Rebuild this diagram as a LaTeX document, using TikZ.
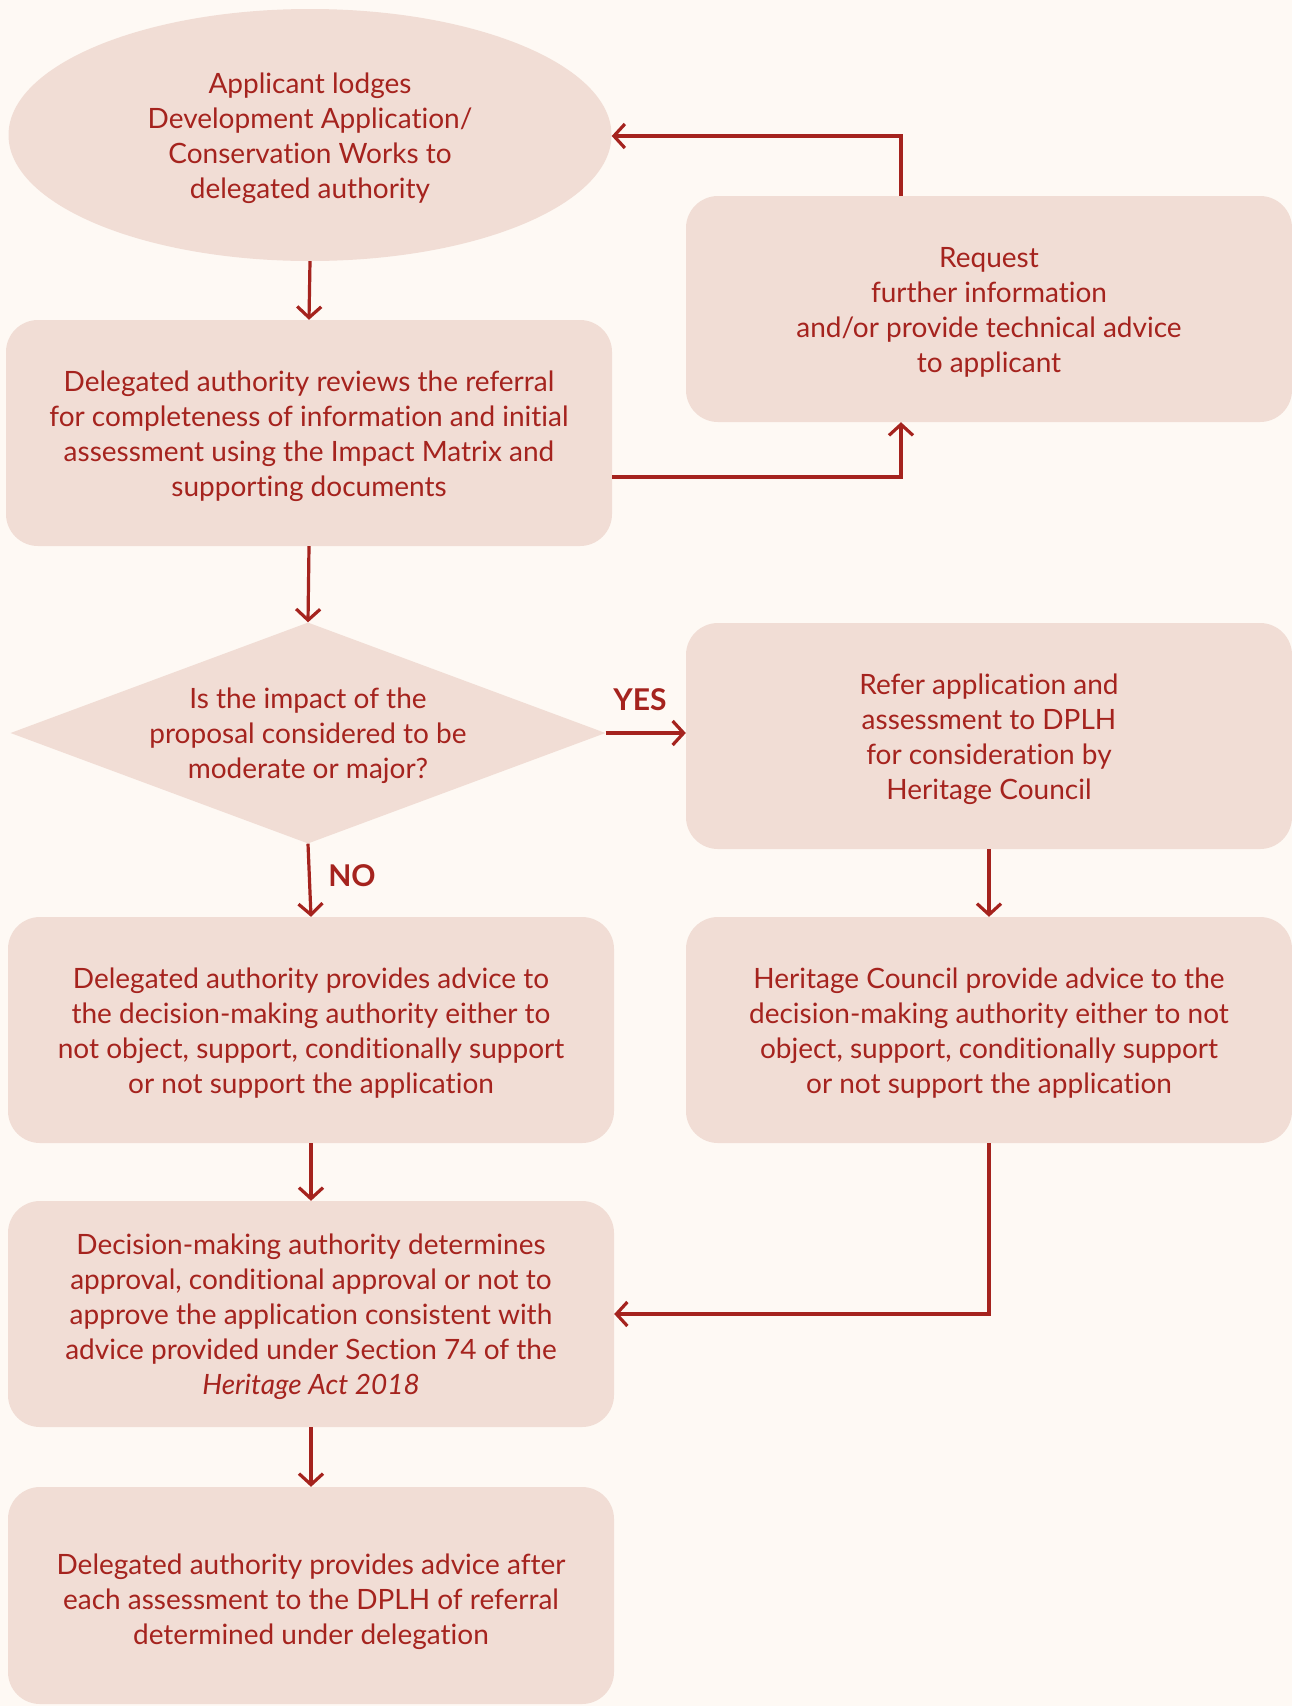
\documentclass[tikz,border=0pt]{standalone}
\usepackage{fontspec}
\setmainfont{Lato}[Ligatures=NoCommon]
\usetikzlibrary{shapes.geometric,arrows.meta}
\definecolor{bg}{HTML}{FEF9F4}
\definecolor{boxfill}{HTML}{F1DDD5}
\definecolor{ink}{HTML}{A5231E}
\begin{document}
\begin{tikzpicture}[x=1pt,y=-1pt,
  txt/.style={text=ink, align=center, font=\fontsize{28}{35}\selectfont, inner sep=0pt},
  box/.style={fill=boxfill, rounded corners=32pt, minimum width=606pt, minimum height=226pt, inner sep=0pt},
  arr/.style={draw=ink, line width=3.2pt, -{Straight Barb[length=11pt,width=24pt,line width=3.2pt]}},
  lbl/.style={text=ink, font=\fontsize{30}{32}\selectfont\bfseries}]
\fill[bg] (0,0) rectangle (1292,1706);
\useasboundingbox (0,0) rectangle (1292,1706);

% shapes
\node[shape=ellipse, fill=boxfill, minimum width=603pt, minimum height=252pt, inner sep=0pt] (ell) at (310,135) {};
\node[box] (rev) at (309,433) {};
\node[box] (req) at (989,309) {};
\node[shape=diamond, fill=boxfill, aspect=2.7, minimum width=595pt, minimum height=221pt, inner sep=0pt] (dia) at (308,733) {};
\node[box] (ref) at (989,736) {};
\node[box] (adv) at (311,1030) {};
\node[box] (her) at (989,1030) {};
\node[box] (dec) at (311,1314) {};
\node[box, minimum height=217pt] (last) at (311,1595.5) {};

% texts
\node[txt] (ellt) at ([yshift=-3pt]ell.center)
  {Applicant lodges\\Development Application/\\Conservation Works to\\delegated authority};
\node[txt] (revt) at ([yshift=-3pt]rev.center)
  {Delegated authority reviews the referral\\for completeness of information and initial\\assessment using the Impact Matrix and\\supporting documents};
\node[txt] (reqt) at ([yshift=-3pt]req.center)
  {Request\\further information\\and/or provide technical advice\\to applicant};
\node[txt] (diat) at ([yshift=-3pt]dia.center)
  {Is the impact of the\\proposal considered to be\\moderate or major?};
\node[txt] (reft) at ([yshift=-3pt]ref.center)
  {Refer application and\\assessment to DPLH\\for consideration by\\Heritage Council};
\node[txt] (advt) at ([yshift=-3pt]adv.center)
  {Delegated authority provides advice to\\the decision-making authority either to\\not object, support, conditionally support\\or not support the application};
\node[txt] (hert) at ([yshift=-3pt]her.center)
  {Heritage Council provide advice to the\\decision-making authority either to not\\object, support, conditionally support\\or not support the application};
\node[txt] (dect) at ([yshift=-3pt]dec.center)
  {Decision-making authority determines\\approval, conditional approval or not to\\approve the application consistent with\\advice provided under Section 74 of the\\\textit{Heritage Act 2018}};
\node[txt] (lastt) at ([yshift=-6pt]last.center)
  {Delegated authority provides advice after\\each assessment to the DPLH of referral\\determined under delegation};

\node[lbl] (yes) at (640,700) {YES};
\node[lbl] (no) at (352,876) {NO};

\draw[arr] (ell.south) -- (rev.north);
\draw[arr] (rev.south) -- (dia.north);
\draw[arr] ([yshift=-44pt]rev.east) -| ([xshift=-88pt]req.south);
\draw[arr] ([xshift=-88pt]req.north) |- ([yshift=-1pt]ell.east);
\draw[arr] (dia.east) -- (ref.west |- dia.east);
\draw[arr] (dia.south) -- (adv.north);
\draw[arr] (ref.south) -- (her.north);
\draw[arr] (adv.south) -- (dec.north);
\draw[arr] (her.south) |- (dec.east);
\draw[arr] (dec.south) -- (last.north);
\end{tikzpicture}
\end{document}
